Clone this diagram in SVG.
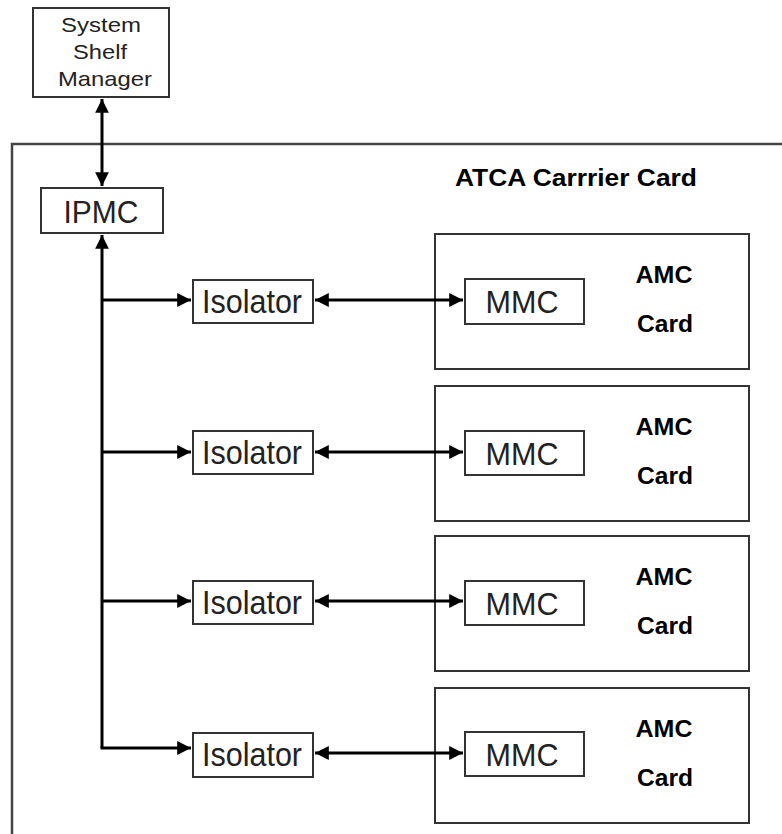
<svg xmlns="http://www.w3.org/2000/svg" width="782" height="834" viewBox="0 0 782 834">
<defs>
<style>
.box{fill:#fff;stroke:#333;stroke-width:2}
.outer{fill:none;stroke:#444;stroke-width:2.5}
.t{font-family:"Liberation Sans",Arial,sans-serif;fill:#222;text-anchor:middle}
.b{font-family:"Liberation Sans",Arial,sans-serif;font-weight:bold;fill:#000;text-anchor:middle}
.c{stroke:#000;stroke-width:3;fill:none}
</style>
<marker id="ah" viewBox="0 0 10 10" refX="10" refY="5" markerWidth="5" markerHeight="4.6" orient="auto-start-reverse" markerUnits="strokeWidth">
<path d="M0,0 L10,5 L0,10 z" fill="#000"/>
</marker>
</defs>
<rect width="782" height="834" fill="#fff"/>
<g id="atca">
<path class="outer" d="M800,144 H12 V840"/>
<text class="b" x="576" y="186" font-size="24" textLength="242" lengthAdjust="spacingAndGlyphs">ATCA Carrrier Card</text>
</g>
<g id="ssm">
<rect class="box" x="33" y="8" width="136" height="89"/>
<text class="t" x="101" y="32" font-size="21" textLength="80" lengthAdjust="spacingAndGlyphs">System</text>
<text class="t" x="100" y="59" font-size="21" textLength="54" lengthAdjust="spacingAndGlyphs">Shelf</text>
<text class="t" x="105" y="86" font-size="21" textLength="94" lengthAdjust="spacingAndGlyphs">Manager</text>
</g>
<g id="ipmc">
<rect class="box" x="41" y="188" width="122" height="45"/>
<text class="t" x="101" y="223" font-size="32" textLength="75" lengthAdjust="spacingAndGlyphs">IPMC</text>
</g>
<g id="cards">
<g id="card1">
<rect class="box" x="435" y="234" width="314" height="135"/>
<text class="b" x="664" y="283" font-size="23" textLength="57" lengthAdjust="spacingAndGlyphs">AMC</text>
<text class="b" x="665" y="332" font-size="23" textLength="56" lengthAdjust="spacingAndGlyphs">Card</text>
</g>
<g id="card2">
<rect class="box" x="435" y="386" width="314" height="135"/>
<text class="b" x="664" y="435" font-size="23" textLength="57" lengthAdjust="spacingAndGlyphs">AMC</text>
<text class="b" x="665" y="484" font-size="23" textLength="56" lengthAdjust="spacingAndGlyphs">Card</text>
</g>
<g id="card3">
<rect class="box" x="435" y="536" width="314" height="135"/>
<text class="b" x="664" y="585" font-size="23" textLength="57" lengthAdjust="spacingAndGlyphs">AMC</text>
<text class="b" x="665" y="634" font-size="23" textLength="56" lengthAdjust="spacingAndGlyphs">Card</text>
</g>
<g id="card4">
<rect class="box" x="435" y="688" width="314" height="135"/>
<text class="b" x="664" y="737" font-size="23" textLength="57" lengthAdjust="spacingAndGlyphs">AMC</text>
<text class="b" x="665" y="786" font-size="23" textLength="56" lengthAdjust="spacingAndGlyphs">Card</text>
</g>
</g>
<g id="isolators">
<g id="iso1"><rect class="box" x="193" y="280" width="120" height="43"/>
<text class="t" x="252" y="313" font-size="34" textLength="100" lengthAdjust="spacingAndGlyphs">Isolator</text></g>
<g id="iso2"><rect class="box" x="193" y="431" width="120" height="43"/>
<text class="t" x="252" y="464" font-size="34" textLength="100" lengthAdjust="spacingAndGlyphs">Isolator</text></g>
<g id="iso3"><rect class="box" x="193" y="581" width="120" height="43"/>
<text class="t" x="252" y="614" font-size="34" textLength="100" lengthAdjust="spacingAndGlyphs">Isolator</text></g>
<g id="iso4"><rect class="box" x="193" y="733" width="120" height="44"/>
<text class="t" x="252" y="766" font-size="34" textLength="100" lengthAdjust="spacingAndGlyphs">Isolator</text></g>
</g>
<g id="mmcs">
<g id="mmc1"><rect class="box" x="465" y="279" width="119" height="45"/>
<text class="t" x="522" y="313" font-size="32" textLength="73" lengthAdjust="spacingAndGlyphs">MMC</text></g>
<g id="mmc2"><rect class="box" x="465" y="431" width="119" height="44"/>
<text class="t" x="522" y="465" font-size="32" textLength="73" lengthAdjust="spacingAndGlyphs">MMC</text></g>
<g id="mmc3"><rect class="box" x="465" y="581" width="119" height="44"/>
<text class="t" x="522" y="615" font-size="32" textLength="73" lengthAdjust="spacingAndGlyphs">MMC</text></g>
<g id="mmc4"><rect class="box" x="465" y="732" width="119" height="44"/>
<text class="t" x="522" y="766" font-size="32" textLength="73" lengthAdjust="spacingAndGlyphs">MMC</text></g>
</g>
<g id="connectors">
<line class="c" x1="102" y1="99" x2="102" y2="186" marker-start="url(#ah)" marker-end="url(#ah)"/>
<path class="c" d="M102,235 V748" marker-start="url(#ah)"/>
<line class="c" x1="102" y1="300" x2="191" y2="300" marker-end="url(#ah)"/>
<line class="c" x1="102" y1="452" x2="191" y2="452" marker-end="url(#ah)"/>
<line class="c" x1="102" y1="601" x2="191" y2="601" marker-end="url(#ah)"/>
<line class="c" x1="100.5" y1="748" x2="191" y2="748" marker-end="url(#ah)"/>
<line class="c" x1="315" y1="300" x2="463" y2="300" marker-start="url(#ah)" marker-end="url(#ah)"/>
<line class="c" x1="315" y1="452" x2="463" y2="452" marker-start="url(#ah)" marker-end="url(#ah)"/>
<line class="c" x1="315" y1="601" x2="463" y2="601" marker-start="url(#ah)" marker-end="url(#ah)"/>
<line class="c" x1="315" y1="753" x2="463" y2="753" marker-start="url(#ah)" marker-end="url(#ah)"/>
</g>
</svg>
